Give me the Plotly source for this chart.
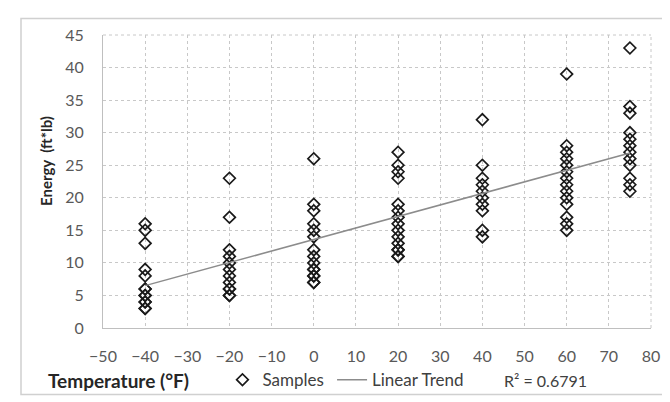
import numpy as np
import plotly.graph_objects as go

# Charpy energy vs temperature
temps = [-40, -20, 0, 20, 40, 60, 75]
energy = {
    -40: [16, 15, 13, 9, 8, 6, 5, 4, 3, 6, 5, 4, 3],
    -20: [23, 17, 12, 11, 10, 9, 8, 7, 6, 5, 6, 5],
    0: [26, 19, 18, 16, 15, 14, 12, 11, 10, 9, 8, 7, 9, 8, 7],
    20: [27, 25, 24, 23, 19, 18, 17, 16, 15, 14, 13, 12, 11, 12, 11],
    40: [32, 25, 23, 22, 21, 20, 19, 18, 15, 14],
    60: [39, 28, 27, 26, 25, 24, 23, 22, 21, 20, 19, 17, 16, 15],
    75: [43, 34, 33, 30, 29, 28, 27, 26, 25, 23, 22, 21],
}
r2_label = "R² = 0.6791"

xs = []
ys = []
for t in temps:
    xs += [t] * len(energy[t])
    ys += energy[t]

slope, icpt = np.polyfit(xs, ys, 1)
trend_x = [min(xs), max(xs)]
trend_y = [slope * x + icpt for x in trend_x]

FONT = "Lato"
LEG_Y = -0.178

fig = go.Figure()
fig.add_trace(go.Scatter(
    x=xs, y=ys, mode="markers", name="Samples", legend="legend",
    marker=dict(symbol="diamond-open", size=9, color="#1a1a1a", line=dict(width=1.7, color="#1a1a1a")),
))
fig.add_trace(go.Scatter(
    x=trend_x, y=trend_y, mode="lines", name="Linear Trend", legend="legend2",
    line=dict(color="#8c8c8c", width=1.5),
))

leg_style = dict(orientation="h", y=LEG_Y, xanchor="left", yanchor="middle",
                 font=dict(size=17, color="#404040"), itemwidth=30, bgcolor="rgba(0,0,0,0)")

fig.update_layout(
    width=670, height=402,
    margin=dict(l=95, r=27, t=27, b=71),
    paper_bgcolor="white", plot_bgcolor="white",
    font=dict(family=FONT, size=16, color="#404040"),
    showlegend=True,
    legend=dict(x=0.218, **leg_style),
    legend2=dict(x=0.418, **leg_style),
    xaxis=dict(range=[-50, 80], dtick=10, tick0=-50, showgrid=True, gridcolor="#c8c8c8",
               griddash="dot", gridwidth=1, zeroline=False, showline=True, linecolor="#bfbfbf",
               linewidth=1, ticks="", tickfont=dict(size=16, color="#595959"), ticklabelstandoff=14),
    yaxis=dict(range=[0, 45], dtick=5, showgrid=True, gridcolor="#c8c8c8", griddash="dot",
               gridwidth=1, zeroline=False, showline=True, linecolor="#bfbfbf", linewidth=1,
               ticks="", tickfont=dict(size=16, color="#595959"), ticklabelstandoff=15),
    annotations=[
        dict(text="<b>Energy  (ft*lb)</b>", x=-0.104, y=0.57, xref="paper", yref="paper",
             xanchor="center", yanchor="middle",
             textangle=-90, showarrow=False, font=dict(size=15, color="#262626")),
        dict(text="<b>Temperature (°F)</b>", x=(38 - 95) / 548, y=LEG_Y, xref="paper", yref="paper",
             xanchor="left", yanchor="middle", showarrow=False, font=dict(size=19, color="#262626")),
        dict(text=r2_label, x=0.808, y=LEG_Y, xref="paper", yref="paper",
             xanchor="center", yanchor="middle", showarrow=False, font=dict(size=16, color="#404040")),
    ],
    shapes=[
        # top/right edge of plot area drawn as dotted gridlines
        dict(type="line", xref="paper", yref="paper", x0=0, x1=1, y0=1, y1=1,
             line=dict(color="#c8c8c8", width=1, dash="dot")),
        dict(type="line", xref="paper", yref="paper", x0=1, x1=1, y0=0, y1=1,
             line=dict(color="#c8c8c8", width=1, dash="dot")),
        # chart outer border
        dict(type="rect", xref="paper", yref="paper",
             x0=(13 - 95) / 548, x1=(666 - 95) / 548, y0=(331 - 400) / 304, y1=(331 - 10) / 304,
             line=dict(color="#d0d0d0", width=1.5)),
    ],
)

fig.write_html("out.html")
